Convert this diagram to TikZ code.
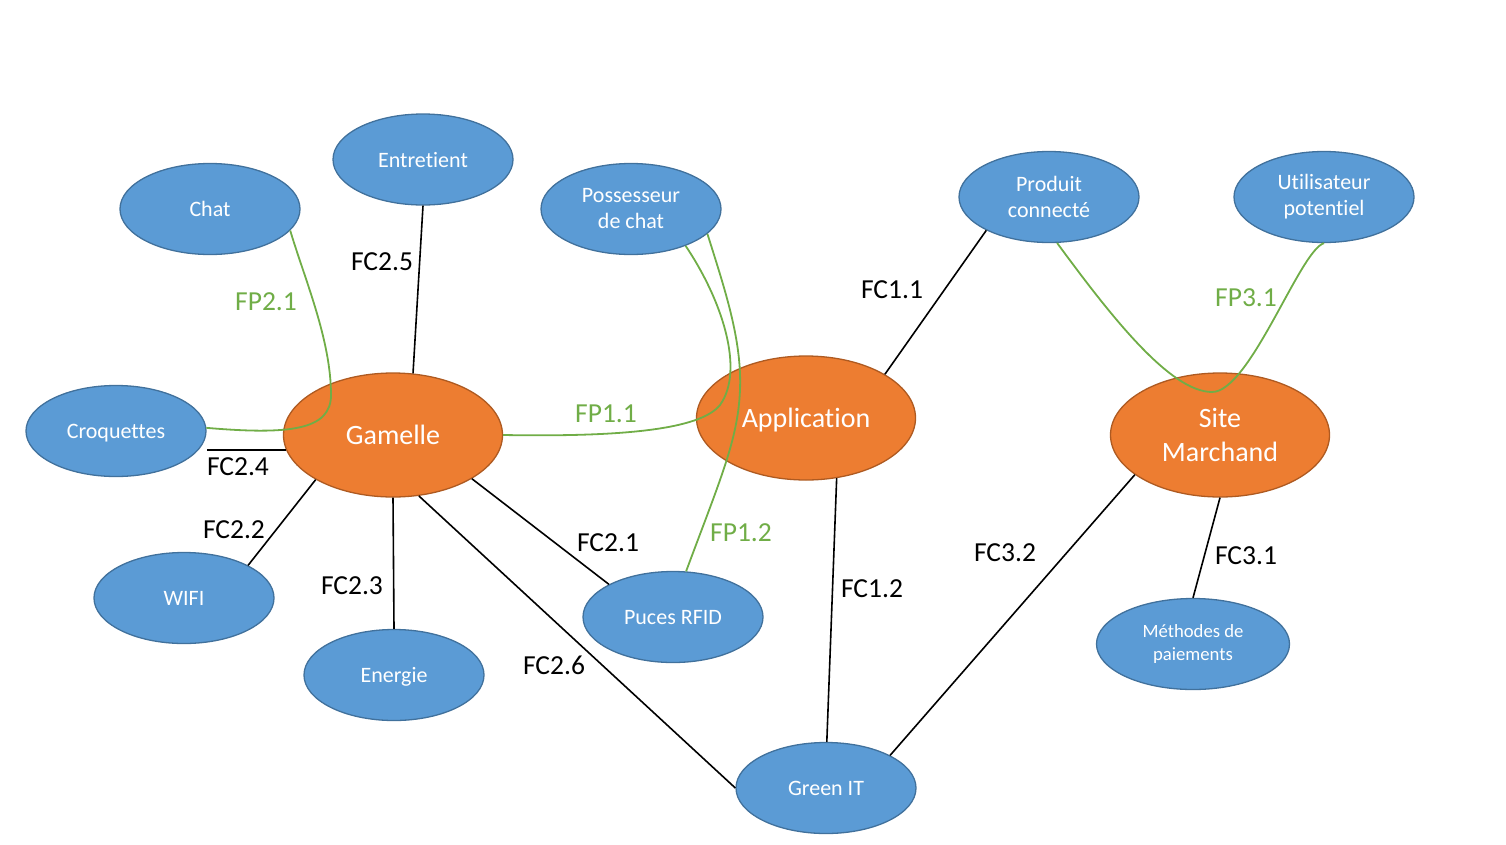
\documentclass[tikz,border=0pt]{standalone}
\usepackage{fontspec}
\setmainfont{Carlito}[Ligatures=NoCommon]
\usetikzlibrary{shapes.geometric}
\definecolor{nblue}{HTML}{5B9BD5}
\definecolor{nblueb}{HTML}{41719C}
\definecolor{norange}{HTML}{ED7D31}
\definecolor{norangeb}{HTML}{AE5A21}
\definecolor{fpgreen}{HTML}{70AD47}
\tikzset{
  bluenode/.style={ellipse, fill=nblue, draw=nblueb, line width=1.3pt, text=white,
    minimum width=180pt, minimum height=91pt, inner sep=0pt, align=center,
    font=\fontsize{22}{26}\selectfont},
  orangenode/.style={ellipse, fill=norange, draw=norangeb, line width=1.3pt, text=white,
    minimum width=219pt, minimum height=124pt, inner sep=0pt, align=center,
    font=\fontsize{28}{34}\selectfont},
  onelineb/.style={text height=17.6pt, text depth=2.2pt},
  onelineo/.style={text height=22.4pt, text depth=2.8pt},
  fcline/.style={draw=black, line width=1.6pt},
  fpline/.style={draw=fpgreen, line width=1.8pt},
  fclab/.style={text=black, font=\fontsize{27.5}{33}\selectfont, inner sep=0pt},
  fplab/.style={text=fpgreen, font=\fontsize{27.5}{33}\selectfont, inner sep=0pt}
}
\begin{document}
\begin{tikzpicture}[x=1pt,y=-1pt]
\useasboundingbox (0,0) rectangle (1506,844);
% nodes
\node[bluenode, onelineb] (chat) at (210,209) {Chat};
\node[bluenode, onelineb] (ent) at (423,159.5) {Entretient};
\node[bluenode] (pos) at (631,209) {Possesseur\\de chat};
\node[bluenode] (pro) at (1049,197) {Produit\\connecté};
\node[bluenode] (uti) at (1324,197) {Utilisateur\\potentiel};
\node[bluenode, onelineb] (cro) at (116,431) {Croquettes};
\node[orangenode, onelineo] (gam) at (393,435) {Gamelle};
\node[orangenode, onelineo] (app) at (806,418) {Application};
\node[orangenode] (site) at (1220,435) {Site\\Marchand};
\node[bluenode, onelineb] (wifi) at (184,598) {WIFI};
\node[bluenode, onelineb] (ene) at (394,675) {Energie};
\node[bluenode, onelineb] (puc) at (673,617) {Puces RFID};
\node[bluenode, onelineb] (green) at (826,788) {Green IT};
\node[bluenode, minimum width=193pt, font=\fontsize{18.7}{23}\selectfont] (met) at (1193,644) {Méthodes de\\paiements};
% black connectors
\draw[fcline] (ent.south) -- (gam.72);
\path (gam.188) coordinate (g4);
\draw[fcline] (g4) -- (g4 -| cro.east);
\draw[fcline] (wifi.27) -- (gam.210);
\draw[fcline] (ene.north) -- (gam.south);
\draw[fcline] (puc.153) -- (gam.331);
\draw[fcline] (green.west) -- (gam.293);
\draw[fcline] (app.29) -- (pro.208);
\draw[fcline] (app.297) -- (green.89);
\draw[fcline] (site.205) -- (green.27);
\draw[fcline] (site.south) -- (met.north);
% green connectors
\draw[fpline] (chat.345) .. controls (305,280) and (331,340) .. (331,395)
  .. controls (331,430) and (290,435) .. (cro.2);
\draw[fpline] (gam.east) .. controls (620,437) and (700,430) .. (720,405)
  .. controls (745,370) and (722,300) .. (pos.326);
\draw[fpline] (pos.342) .. controls (725,290) and (742,340) .. (740,390)
  .. controls (738,440) and (720,480) .. (puc.74);
\draw[fpline] (pro.280) .. controls (1110,315) and (1170,392) .. (1212,392)
  .. controls (1250,392) and (1300,250) .. (uti.south);
% labels
\node[fclab] (l25) at (382,262) {FC2.5};
\node[fplab] (l21p) at (266,302) {FP2.1};
\node[fclab] (l24) at (238,467) {FC2.4};
\node[fclab] (l22) at (234,530) {FC2.2};
\node[fclab] (l23) at (352,586) {FC2.3};
\node[fclab] (l21) at (608,543) {FC2.1};
\node[fclab] (l26) at (554,665) {FC2.6};
\node[fplab] (l11p) at (606,414) {FP1.1};
\node[fplab] (l12p) at (741,533) {FP1.2};
\node[fclab] (l11) at (892,290) {FC1.1};
\node[fclab] (l12) at (872,589) {FC1.2};
\node[fclab] (l32) at (1005,553) {FC3.2};
\node[fplab] (l31p) at (1246,298) {FP3.1};
\node[fclab] (l31) at (1246,556) {FC3.1};
\end{tikzpicture}
\end{document}
